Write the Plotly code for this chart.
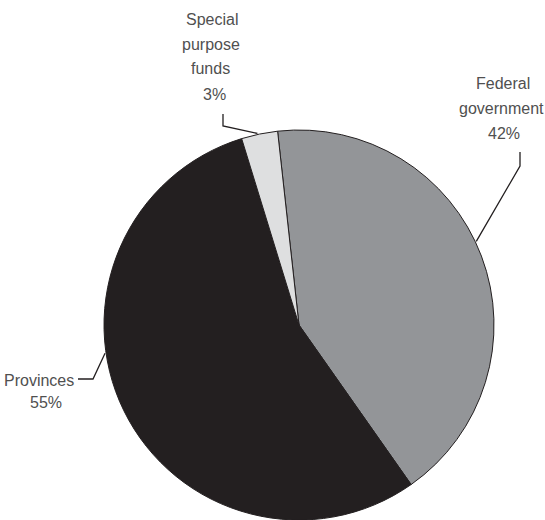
import math
import plotly.graph_objects as go

# Budget shares by recipient
labels = ["Federal government", "Provinces", "Special purpose funds"]
shares = [42, 55, 3]
label_lines = [["Federal", "government"], ["Provinces"], ["Special", "purpose", "funds"]]
colors = ["#939598", "#231f20", "#dedfe0"]

W, H = 545, 520
# pie geometry in pixels (plotly radius = half the domain box)
CX, CY, R = 299, 325, 195
START_DEG = -6.3  # first slice begins just left of 12 o'clock

# where each leader line touches the rim (fraction through the slice)
touch_frac = [0.47, 0.59, 0.45]
# per label: x centre of each text line and y centre of each text line (px)
line_x = [[503, 501, 504], [39, 46], [212, 211, 210, 214]]
line_y = [[84, 108, 133], [380, 402], [20, 44.5, 69, 94]]
# elbow points of the leader lines (px)
elbows = [[(520, 152), (520, 166)], [(78, 379), (93, 379)], [(223, 114), (223, 126)]]

FONT = "Liberation Sans, Arial, sans-serif"
FONT_SIZE = 16
TEXT_COLOR = "#505050"
LINE_COLOR = "#231f20"


def px(x, y):
    return x / W, 1 - y / H


fig = go.Figure(
    go.Pie(
        labels=labels,
        values=shares,
        sort=False,
        direction="clockwise",
        rotation=START_DEG,
        marker=dict(colors=colors, line=dict(color=LINE_COLOR, width=1)),
        textinfo="none",
        hoverinfo="label+percent",
        domain=dict(x=[(CX - R) / W, (CX + R) / W],
                    y=[max(0, 1 - (CY + R) / H), 1 - (CY - R) / H]),
    )
)

total = sum(shares)
angle = START_DEG
annotations = []
shapes = []
for i, v in enumerate(shares):
    span = 360 * v / total
    a = math.radians(angle + span * touch_frac[i])
    angle += span
    rim = (CX + (R + 1) * math.sin(a), CY - (R + 1) * math.cos(a))
    pts = elbows[i] + [rim]
    path = "M " + " L ".join(f"{px(x, y)[0]:.5f},{px(x, y)[1]:.5f}" for x, y in pts)
    shapes.append(dict(type="path", xref="paper", yref="paper", path=path,
                       line=dict(color=LINE_COLOR, width=1.3)))
    texts = label_lines[i] + [f"{v}%"]
    for t, lx, ly in zip(texts, line_x[i], line_y[i]):
        x, y = px(lx, ly)
        annotations.append(dict(text=t, x=x, y=y, xref="paper", yref="paper",
                                showarrow=False, xanchor="center", yanchor="middle",
                                font=dict(family=FONT, size=FONT_SIZE, color=TEXT_COLOR)))

fig.update_layout(
    width=W, height=H,
    margin=dict(l=0, r=0, t=0, b=0),
    paper_bgcolor="white",
    plot_bgcolor="white",
    showlegend=False,
    annotations=annotations,
    shapes=shapes,
)

fig.write_html("out.html")
